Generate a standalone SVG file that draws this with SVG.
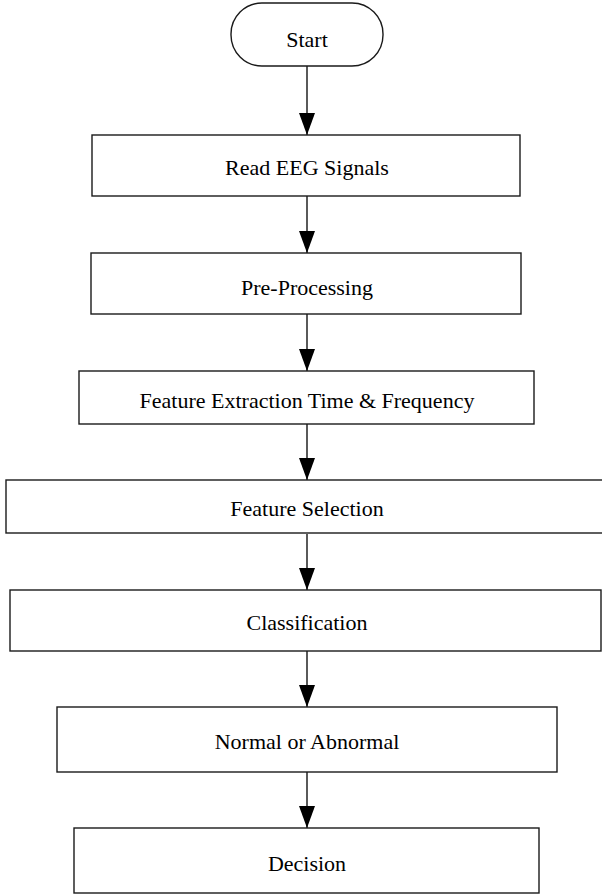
<svg xmlns="http://www.w3.org/2000/svg" width="602" height="895" viewBox="0 0 602 895">
<style>
.box{fill:#fff;stroke:#1a1a1a;stroke-width:1.4}
.lbl{font-family:"Liberation Serif","Times New Roman",serif;font-size:22px;fill:#000;text-anchor:middle;dominant-baseline:central}
.edge{stroke:#000;stroke-width:1.3;fill:none;marker-end:url(#ah)}
</style>
<defs>
<marker id="ah" markerUnits="userSpaceOnUse" markerWidth="22" markerHeight="16" refX="22" refY="8" orient="auto" viewBox="0 0 22 16">
<path d="M0,0 L22,8 L0,16 Z" fill="#000"/>
</marker>
</defs>
<rect width="602" height="895" fill="#fff"/>
<g id="connectors">
<line class="edge" x1="307" y1="66" x2="307" y2="135"/>
<line class="edge" x1="307" y1="196" x2="307" y2="253"/>
<line class="edge" x1="307" y1="314" x2="307" y2="371"/>
<line class="edge" x1="307" y1="424" x2="307" y2="480"/>
<line class="edge" x1="307" y1="534" x2="307" y2="590"/>
<line class="edge" x1="307" y1="651" x2="307" y2="707"/>
<line class="edge" x1="307" y1="772" x2="307" y2="828"/>
</g>
<g id="start"><rect class="box" x="231" y="3" width="152" height="63" rx="31" ry="31"/><text class="lbl" x="307" y="39">Start</text></g>
<g id="read"><rect class="box" x="92" y="135" width="428" height="61"/><text class="lbl" x="307" y="167">Read EEG Signals</text></g>
<g id="preproc"><rect class="box" x="91" y="253" width="430" height="61"/><text class="lbl" x="307" y="287">Pre-Processing</text></g>
<g id="extract"><rect class="box" x="79" y="371" width="455" height="53"/><text class="lbl" x="307" y="400">Feature Extraction Time &amp; Frequency</text></g>
<g id="select"><rect class="box" x="6" y="480" width="604" height="53"/><text class="lbl" x="307" y="508">Feature Selection</text></g>
<g id="classify"><rect class="box" x="10" y="590" width="591" height="61"/><text class="lbl" x="307" y="622">Classification</text></g>
<g id="normal"><rect class="box" x="57" y="707" width="500" height="65"/><text class="lbl" x="307" y="741">Normal or Abnormal</text></g>
<g id="decision"><rect class="box" x="74" y="828" width="465" height="65"/><text class="lbl" x="307" y="863">Decision</text></g>
</svg>
